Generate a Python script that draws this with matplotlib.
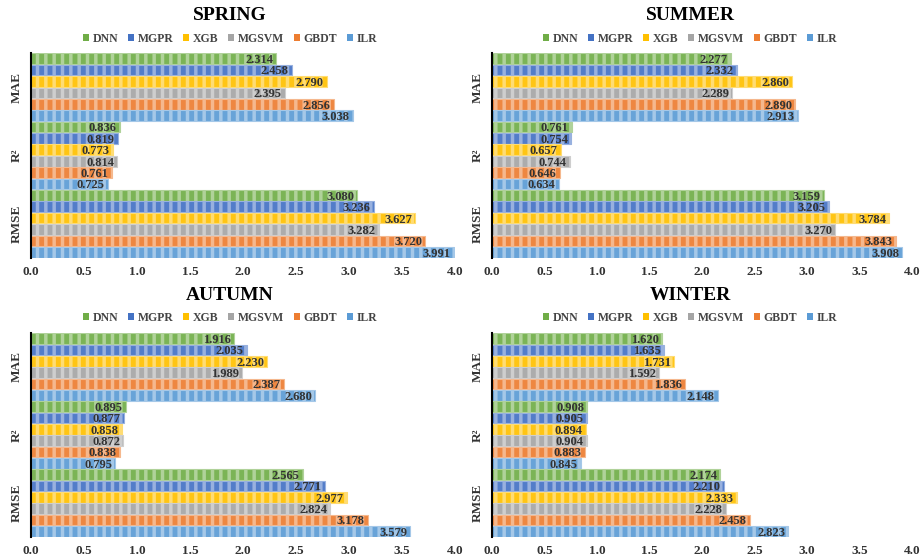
import numpy as np
from matplotlib import pyplot as plt
from matplotlib.patches import Patch
from matplotlib import colors as mcolors

plt.rcParams['font.family'] = ['Liberation Serif', 'DejaVu Serif']
plt.rcParams['font.weight'] = 'bold'
plt.rcParams['hatch.linewidth'] = 2.5

models = ['DNN', 'MGPR', 'XGB', 'MGSVM', 'GBDT', 'ILR']
metrics = ['MAE', 'R²', 'RMSE']
model_colors = ['#70AD47', '#4472C4', '#FFC000', '#A5A5A5', '#ED7D31', '#5B9BD5']

# values per season: rows = metric (MAE, R2, RMSE), cols = model
spring = [[2.314, 2.458, 2.790, 2.395, 2.856, 3.038],
          [0.836, 0.819, 0.773, 0.814, 0.761, 0.725],
          [3.080, 3.236, 3.627, 3.282, 3.720, 3.991]]
summer = [[2.277, 2.332, 2.860, 2.289, 2.890, 2.913],
          [0.761, 0.754, 0.657, 0.744, 0.646, 0.634],
          [3.159, 3.205, 3.784, 3.270, 3.843, 3.908]]
autumn = [[1.916, 2.035, 2.230, 1.989, 2.387, 2.680],
          [0.895, 0.877, 0.858, 0.872, 0.838, 0.795],
          [2.565, 2.771, 2.977, 2.824, 3.178, 3.579]]
winter = [[1.620, 1.635, 1.731, 1.592, 1.836, 2.148],
          [0.908, 0.905, 0.894, 0.904, 0.883, 0.845],
          [2.174, 2.210, 2.333, 2.228, 2.458, 2.823]]

seasons = ['SPRING', 'SUMMER', 'AUTUMN', 'WINTER']
season_data = [spring, summer, autumn, winter]

W, H = 921, 560
fig = plt.figure(figsize=(W / 100, H / 100), dpi=100)

# axes boxes in pixels: left, top, right, bottom
boxes = [(31, 53, 455, 258), (492, 53, 912, 258),
         (31, 333, 455, 537), (492, 333, 912, 537)]
title_pos = [(230, 16), (690, 16), (230, 295), (690, 295)]
legend_y = [39, 39, 318, 318]


def lighten(c, f):
    r, g, b = mcolors.to_rgb(c)
    return (r + (1 - r) * f, g + (1 - g) * f, b + (1 - b) * f)


for k, (name, data) in enumerate(zip(seasons, season_data)):
    l, t, r, b = boxes[k]
    ax = fig.add_axes([l / W, 1 - b / H, (r - l) / W, (b - t) / H])
    nm = len(models)
    for gi, met in enumerate(metrics):
        for mi, mod in enumerate(models):
            y = gi * nm + mi
            v = data[gi][mi]
            ax.barh(y, v, height=0.94, color=lighten(model_colors[mi], 0.08),
                    edgecolor=lighten(model_colors[mi], 0.45), linewidth=0.8,
                    hatch='||')
            ax.text(v - 0.03, y + 0.12, '%.3f' % v, ha='right', va='center',
                    fontsize=9, color='#333333', fontweight='bold')
    ax.set_ylim(3 * nm - 0.5, -0.5)
    ax.set_xlim(0, 4)
    ax.set_xticks(np.arange(0, 4.01, 0.5))
    ax.set_xticklabels(['%.1f' % x for x in np.arange(0, 4.01, 0.5)], fontsize=9.5)
    ax.set_yticks([nm * g + (nm - 1) / 2 for g in range(3)])
    ax.set_yticklabels(metrics, rotation=90, va='center', fontsize=9.5)
    ax.tick_params(axis='both', length=0, pad=6, colors='#333333')
    for s in ['top', 'right', 'bottom']:
        ax.spines[s].set_visible(False)
    ax.spines['left'].set_linewidth(1.5)
    ax.spines['left'].set_color('black')

    tx, ty = title_pos[k]
    fig.text(tx / W, 1 - ty / H, name, ha='center', va='center',
             fontsize=14, fontweight='bold')
    handles = [Patch(facecolor=c, edgecolor='none') for c in model_colors]
    fig.legend(handles, models, loc='center', bbox_to_anchor=(tx / W, 1 - legend_y[k] / H),
               ncol=6, frameon=False, fontsize=8.5, handlelength=0.55, handleheight=0.55,
               handletextpad=0.3, columnspacing=0.8, labelcolor='#444444')

fig.savefig('out.png', dpi=100)
